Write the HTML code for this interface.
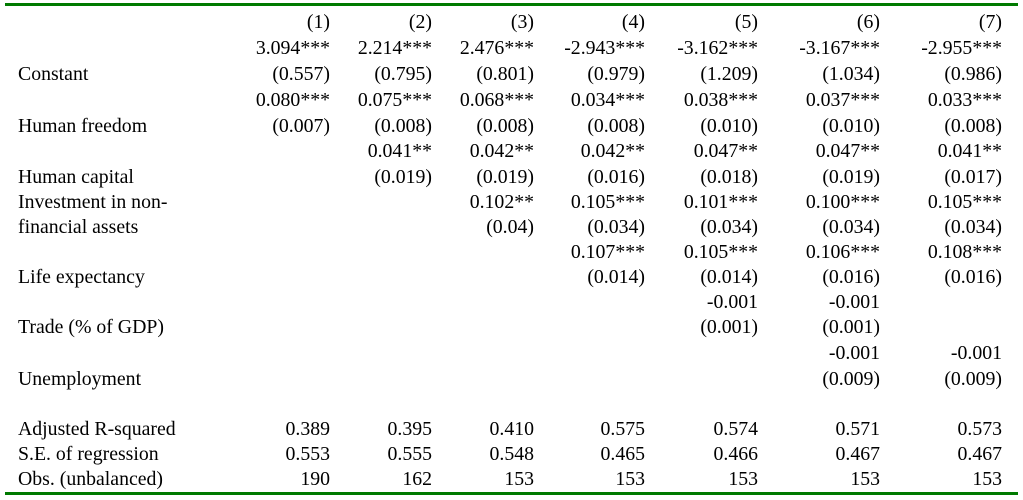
<!DOCTYPE html>
<html><head><meta charset="utf-8"><style>
body{margin:0;width:1023px;height:500px;background:#fff;position:relative;overflow:hidden;font-family:"Liberation Serif",serif;font-size:19.8px;color:#000}
.rule{position:absolute;left:5px;width:1013px;height:3px;background:#007a00}
.t{position:absolute;line-height:22px;white-space:nowrap}
.r{text-align:right;width:200px}
</style></head><body>
<div class="rule" style="top:3px"></div>
<div class="rule" style="top:492px"></div>
<div id="tbl"></div>
<script>
const colRight=[330,432,534,645,758,880,1002];
const rowY=[22,48,74,100,126,151,177,202,227,252,277,302,327,353,379,429,454,479];
const labels=["","","Constant","","Human freedom","","Human capital","Investment in non-","financial assets","","Life expectancy","","Trade (% of GDP)","","Unemployment","Adjusted R-squared","S.E. of regression","Obs. (unbalanced)"];
const cells=[
["(1)","(2)","(3)","(4)","(5)","(6)","(7)"],
["3.094***","2.214***","2.476***","-2.943***","-3.162***","-3.167***","-2.955***"],
["(0.557)","(0.795)","(0.801)","(0.979)","(1.209)","(1.034)","(0.986)"],
["0.080***","0.075***","0.068***","0.034***","0.038***","0.037***","0.033***"],
["(0.007)","(0.008)","(0.008)","(0.008)","(0.010)","(0.010)","(0.008)"],
["","0.041**","0.042**","0.042**","0.047**","0.047**","0.041**"],
["","(0.019)","(0.019)","(0.016)","(0.018)","(0.019)","(0.017)"],
["","","0.102**","0.105***","0.101***","0.100***","0.105***"],
["","","(0.04)","(0.034)","(0.034)","(0.034)","(0.034)"],
["","","","0.107***","0.105***","0.106***","0.108***"],
["","","","(0.014)","(0.014)","(0.016)","(0.016)"],
["","","","","-0.001","-0.001",""],
["","","","","(0.001)","(0.001)",""],
["","","","","","-0.001","-0.001"],
["","","","","","(0.009)","(0.009)"],
["0.389","0.395","0.410","0.575","0.574","0.571","0.573"],
["0.553","0.555","0.548","0.465","0.466","0.467","0.467"],
["190","162","153","153","153","153","153"]];
const tbl=document.getElementById('tbl');
rowY.forEach((y,i)=>{
  if(labels[i]){const d=document.createElement('div');d.className='t';
    
    
    d.style.left='18px';d.style.top=(y-11)+'px';d.textContent=labels[i];tbl.appendChild(d);}
  cells[i].forEach((v,j)=>{if(!v)return;const d=document.createElement('div');d.className='t r';
    
    
    d.style.left=(colRight[j]-200)+'px';d.style.top=(y-11)+'px';d.textContent=v;tbl.appendChild(d);});
});
</script>
</body></html>
